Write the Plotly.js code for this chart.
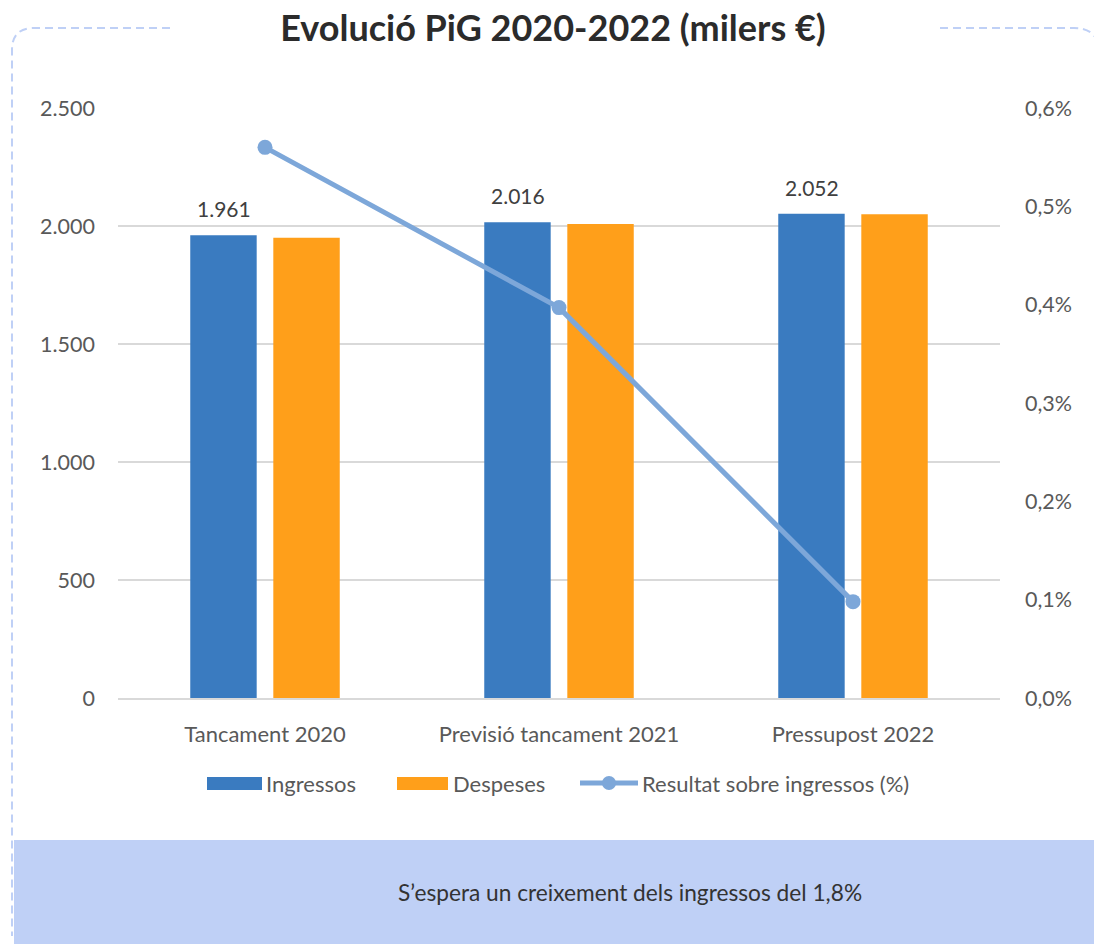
<!DOCTYPE html>
<html>
<head>
<meta charset="utf-8">
<script src="https://cdn.plot.ly/plotly-3.0.1.min.js"></script>
<style>html,body{margin:0;padding:0;background:#fff;} #chart{width:1094px;height:944px;}</style>
</head>
<body>
<div id="chart"></div>
<script>
// ---- data ----
const categories = ["Tancament 2020", "Previsió tancament 2021", "Pressupost 2022"];
const ingressos = [1961, 2016, 2052];
const despeses = [1950, 2008, 2050];
const resultatPct = [0.0056, 0.00397, 0.00098];
const seriesNames = ["Ingressos", "Despeses", "Resultat sobre ingressos (%)"];
const titleText = "Evolució PiG 2020-2022 (milers €)";
const noteText = "S’espera un creixement dels ingressos del 1,8%";

// ---- layout helpers (pixel -> paper) ----
const W = 1094, H = 944;
const L = 118, R = 1000, T = 108, B = 698;
const X = px => (px - L) / (R - L);
const Y = py => (B - py) / (B - T);
const P = (x, y) => X(x).toFixed(5) + "," + Y(y).toFixed(5);

const FONT = "Lato, 'Open Sans', sans-serif";
const blue = "#3A7BC0", orange = "#FF9F1A", lineCol = "#7DA7D9";
const tickCol = "#595959";

const traces = [
  {type: "bar", name: seriesNames[0], x: categories, y: ingressos, marker: {color: blue},
   showlegend: false, hoverinfo: "y"},
  {type: "bar", name: seriesNames[1], x: categories, y: despeses, marker: {color: orange},
   showlegend: false, hoverinfo: "y"},
  {type: "scatter", mode: "lines+markers", name: seriesNames[2], x: categories, y: resultatPct, yaxis: "y2",
   line: {color: lineCol, width: 5}, marker: {color: lineCol, size: 15}, showlegend: false, cliponaxis: false}
];

const dash = {color: "#BFD0F6", width: 2, dash: "8px,5px"};
const shapes = [
  {type: "path", xref: "paper", yref: "paper", layer: "below",
   path: "M" + P(14, 840) + " L" + P(1100, 840) + " L" + P(1100, 950) + " L" + P(14, 950) + " Z",
   fillcolor: "#BFD0F6", line: {width: 0}},
  {type: "path", xref: "paper", yref: "paper", layer: "below",
   path: "M" + P(170, 28) + " L" + P(34, 28) + " Q" + P(12, 28) + " " + P(12, 50) + " L" + P(12, 936),
   line: dash},
  {type: "path", xref: "paper", yref: "paper", layer: "below",
   path: "M" + P(940, 28) + " L" + P(1074, 28) + " Q" + P(1094, 28) + " " + P(1098, 44),
   line: dash},
  {type: "rect", xref: "paper", yref: "paper", x0: X(207), x1: X(262), y0: Y(777), y1: Y(790),
   fillcolor: blue, line: {width: 0}},
  {type: "rect", xref: "paper", yref: "paper", x0: X(397), x1: X(448), y0: Y(777), y1: Y(790),
   fillcolor: orange, line: {width: 0}},
  {type: "line", xref: "paper", yref: "paper", x0: X(580), x1: X(638), y0: Y(783), y1: Y(783),
   line: {color: lineCol, width: 5}},
  {type: "circle", xref: "paper", yref: "paper", x0: X(602), x1: X(616), y0: Y(776), y1: Y(790),
   fillcolor: lineCol, line: {width: 0}}
];

const legFont = {family: FONT, size: 22, color: tickCol};
const annotations = [
  {xref: "paper", yref: "paper", x: X(264), y: Y(783), xanchor: "left", yanchor: "middle",
   text: seriesNames[0], showarrow: false, font: legFont},
  {xref: "paper", yref: "paper", x: X(451), y: Y(783), xanchor: "left", yanchor: "middle",
   text: seriesNames[1], showarrow: false, font: legFont},
  {xref: "paper", yref: "paper", x: X(640), y: Y(783), xanchor: "left", yanchor: "middle",
   text: seriesNames[2], showarrow: false, font: legFont},
  {xref: "paper", yref: "paper", x: X(630), y: Y(892), xanchor: "center", yanchor: "middle",
   text: noteText, showarrow: false, font: {family: FONT, size: 22.7, color: "#333333"}}
];
// data labels above the Ingressos bars (positioned via the axes)
categories.forEach((c, i) => {
  annotations.push({xref: "x", yref: "y", x: c, y: ingressos[i], xshift: -41.5, yshift: 12,
    yanchor: "bottom", xanchor: "center", showarrow: false,
    text: ingressos[i].toLocaleString("de-DE"), font: {family: FONT, size: 21, color: "#404040"}});
});

const layout = {
  width: W, height: H,
  margin: {l: L, r: W - R, t: T, b: H - B, pad: 0},
  paper_bgcolor: "#ffffff", plot_bgcolor: "#ffffff",
  separators: ",.",
  font: {family: FONT, color: tickCol, size: 22},
  title: {text: "<b>" + titleText + "</b>", xref: "paper", x: X(553), xanchor: "center",
          yref: "container", y: 1 - 28 / H, yanchor: "middle",
          font: {family: FONT, size: 36, color: "#2B2B2B"}},
  barmode: "group", bargap: 0.435, bargroupgap: 0.2,
  showlegend: false,
  xaxis: {type: "category", showgrid: false, zeroline: false, showline: true, linecolor: "#D9D9D9", linewidth: 1.5,
          ticks: "", ticklabelstandoff: 16, tickfont: {family: FONT, size: 22, color: tickCol}, fixedrange: true},
  yaxis: {range: [0, 2500], dtick: 500, tickformat: ",d", showgrid: true, gridcolor: "#D9D9D9", gridwidth: 1.5,
          zeroline: false, showline: false, ticks: "", ticklabelstandoff: 22,
          tickfont: {family: FONT, size: 21.5, color: tickCol}, fixedrange: true},
  yaxis2: {range: [0, 0.006], dtick: 0.001, tickformat: ".1%", overlaying: "y", side: "right",
           showgrid: false, zeroline: false, showline: false, ticks: "", ticklabelstandoff: 24,
           tickfont: {family: FONT, size: 21.5, color: tickCol}, fixedrange: true},
  shapes: shapes,
  annotations: annotations
};

Plotly.newPlot("chart", traces, layout, {displayModeBar: false, staticPlot: true});
</script>
</body>
</html>
